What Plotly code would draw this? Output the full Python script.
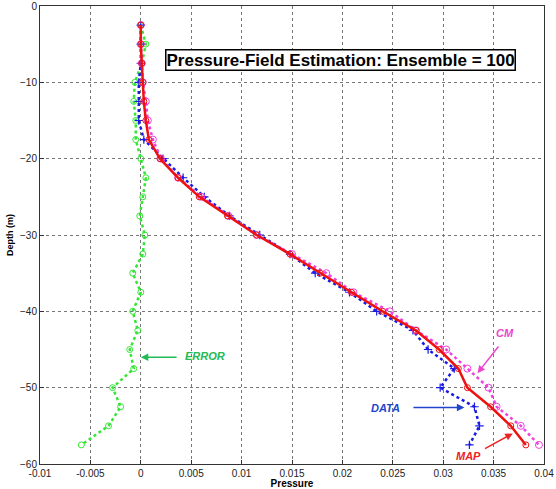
import plotly.graph_objects as go

depth = [-2.5, -5, -7.5, -10, -12.5, -15, -17.5, -20, -22.5, -25, -27.5, -30,
         -32.5, -35, -37.5, -40, -42.5, -45, -47.5, -50, -52.5, -55, -57.5]
map_p = [0.0, 0.0, 0.0001, 0.0002, 0.0003, 0.0005, 0.0008, 0.0019, 0.0037, 0.0058, 0.0086, 0.0115,
         0.0148, 0.0178, 0.0209, 0.0240, 0.0273, 0.0296, 0.0315, 0.0324, 0.0347, 0.0367, 0.0382]
cm_p = [0.0, 0.0, 0.0001, 0.0002, 0.0005, 0.0007, 0.0012, 0.0020, 0.0037, 0.0060, 0.0087, 0.0115,
        0.0150, 0.0184, 0.0211, 0.0247, 0.0273, 0.0303, 0.0324, 0.0345, 0.0353, 0.0377, 0.0395]
data_p = [0.0, 0.0, 0.0, -0.0002, -0.0002, -0.0002, 0.0003, 0.0022, 0.0042, 0.0063, 0.0088, 0.0118,
          0.0148, 0.0173, 0.0207, 0.0234, 0.0270, 0.0285, 0.0311, 0.0297, 0.0331, 0.0336, 0.0326]
err_p = [0.0, 0.0005, 0.0001, -0.0006, -0.0007, -0.0005, -0.0005, 0.0, 0.0005, 0.0002, -0.0001, 0.0004,
         0.0002, -0.0008, 0.0, -0.0008, -0.0003, -0.0011, -0.0007, -0.0028, -0.0020, -0.0032, -0.0059]

x_ticks = [-0.01, -0.005, 0, 0.005, 0.01, 0.015, 0.02, 0.025, 0.03, 0.035, 0.04]
x_tick_text = ["-0.01", "-0.005", "0", "0.005", "0.01", "0.015", "0.02", "0.025", "0.03", "0.035", "0.04"]
y_ticks = [0, -10, -20, -30, -40, -50, -60]

GREEN = "#33e633"
BLUE = "#1a1ae6"
MAG = "#f040e0"
RED = "#ee1111"

fig = go.Figure()
fig.add_trace(go.Scatter(x=err_p, y=depth, mode="lines+markers", name="ERROR",
                         line=dict(color=GREEN, width=2.5, dash="dot"),
                         marker=dict(symbol="circle-open", size=6, color=GREEN, line=dict(width=1))))
fig.add_trace(go.Scatter(x=data_p, y=depth, mode="lines+markers", name="DATA",
                         line=dict(color=BLUE, width=2.5, dash="dot"),
                         marker=dict(symbol="cross-thin-open", size=6, color=BLUE, line=dict(width=1.2, color=BLUE))))
fig.add_trace(go.Scatter(x=cm_p, y=depth, mode="lines+markers", name="CM",
                         line=dict(color=MAG, width=2.5, dash="dot"),
                         marker=dict(symbol="circle-open", size=7, color=MAG, line=dict(width=1))))
fig.add_trace(go.Scatter(x=map_p, y=depth, mode="lines+markers", name="MAP",
                         line=dict(color=RED, width=2.5),
                         marker=dict(symbol="circle-open", size=6, color=RED, line=dict(width=1))))

def label(text, color, tx, ty, ax, ay, hx, hy):
    fig.add_annotation(x=tx, y=ty, xref="x", yref="y", text="<b><i>" + text + "</i></b>",
                       showarrow=False, font=dict(family="Arial", size=11, color=color))
    fig.add_annotation(x=hx, y=hy, ax=ax, ay=ay, xref="x", yref="y", axref="x", ayref="y",
                       text="", showarrow=True, arrowhead=2, arrowsize=1, arrowwidth=1.5,
                       arrowcolor=color)

label("ERROR", "#22bb55", 0.0064, -45.9, 0.0037, -46.0, 0.0, -46.0)
label("DATA", "#2244cc", 0.0243, -52.6, 0.0269, -52.6, 0.0321, -52.6)
label("CM", "#ee44cc", 0.0361, -42.8, 0.0356, -44.4, 0.0334, -48.1)
label("MAP", "#ee2222", 0.0325, -59.0, 0.0340, -58.1, 0.0369, -56.0)

fig.add_annotation(x=0.0198, y=-7.1, xref="x", yref="y", xanchor="center",
                   text="<b>Pressure-Field Estimation: Ensemble = 100</b>", showarrow=False,
                   font=dict(family="Arial", size=17, color="black"),
                   bgcolor="white", bordercolor="black", borderwidth=1.5, borderpad=0)

fig.update_layout(
    width=556, height=489,
    margin=dict(l=40, r=12, t=6, b=25),
    paper_bgcolor="white", plot_bgcolor="white",
    showlegend=False,
    font=dict(family="Arial", size=10, color="#222"),
)
fig.update_xaxes(range=[-0.01, 0.04], tickvals=x_ticks, ticktext=x_tick_text,
                 showgrid=True, gridcolor="#777", gridwidth=1, griddash="dot",
                 showline=True, linecolor="#333", linewidth=1, mirror=True,
                 ticks="inside", ticklen=4, tickcolor="#333", zeroline=False,
                 ticklabelstandoff=0, automargin=False,
                 title=dict(text="<b>Pressure</b>", font=dict(size=10, color="black"), standoff=2))
fig.update_yaxes(range=[-60, 0], tickvals=y_ticks,
                 showgrid=True, gridcolor="#777", gridwidth=1, griddash="dot",
                 showline=True, linecolor="#333", linewidth=1, mirror=True,
                 ticks="inside", ticklen=4, tickcolor="#333", zeroline=False,
                 automargin=False,
                 title=dict(text="<b>Depth (m)</b>", font=dict(size=9, color="black"), standoff=4))

fig.write_html("out.html")
